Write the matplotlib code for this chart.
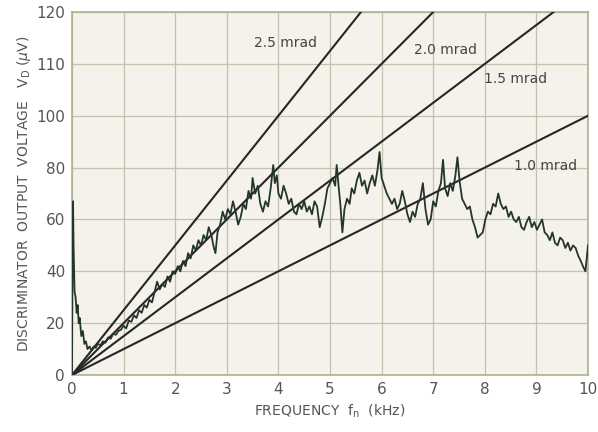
import matplotlib.pyplot as plt

# measured discriminator output (true scale 0-140, ticks every 20)
freq = [0.0, 0.01, 0.02, 0.03, 0.05, 0.07, 0.09, 0.11, 0.13, 0.15, 0.18, 0.21, 0.24, 0.27, 0.3,
        0.34, 0.38, 0.42, 0.46, 0.5, 0.55, 0.6, 0.65, 0.7, 0.75, 0.8, 0.85, 0.9, 0.95, 1.0,
        1.05, 1.1, 1.15, 1.2, 1.25, 1.3, 1.35, 1.4, 1.45, 1.5, 1.55, 1.6, 1.65, 1.7, 1.75,
        1.8, 1.85, 1.9, 1.95, 2.0, 2.05, 2.1, 2.15, 2.2, 2.25, 2.3, 2.35, 2.4, 2.45, 2.5,
        2.55, 2.6, 2.65, 2.7, 2.75, 2.78, 2.82, 2.87, 2.92, 2.97, 3.02, 3.07, 3.12, 3.17, 3.22,
        3.27, 3.32, 3.37, 3.42, 3.47, 3.5, 3.55, 3.6, 3.65, 3.7, 3.75, 3.8, 3.85, 3.9, 3.93,
        3.97, 4.0, 4.05, 4.1, 4.15, 4.2, 4.25, 4.3, 4.35, 4.4, 4.45, 4.5, 4.55, 4.6, 4.65,
        4.7, 4.75, 4.8, 4.85, 4.9, 4.95, 5.0, 5.05, 5.1, 5.13, 5.17, 5.2, 5.24, 5.28, 5.33,
        5.38, 5.42, 5.47, 5.52, 5.57, 5.62, 5.67, 5.72, 5.77, 5.82, 5.87, 5.92, 5.96, 6.0, 6.05,
        6.1, 6.15, 6.2, 6.25, 6.3, 6.35, 6.4, 6.45, 6.5, 6.55, 6.6, 6.65, 6.7, 6.75, 6.8,
        6.85, 6.9, 6.95, 7.0, 7.05, 7.1, 7.15, 7.19, 7.23, 7.28, 7.33, 7.38, 7.43, 7.47, 7.51,
        7.56, 7.61, 7.66, 7.71, 7.76, 7.81, 7.86, 7.91, 7.96, 8.01, 8.06, 8.11, 8.16, 8.21, 8.26,
        8.31, 8.36, 8.41, 8.46, 8.51, 8.56, 8.61, 8.66, 8.71, 8.76, 8.81, 8.86, 8.91, 8.96, 9.01,
        9.06, 9.11, 9.16, 9.21, 9.26, 9.31, 9.36, 9.41, 9.46, 9.51, 9.56, 9.61, 9.66, 9.71, 9.76,
        9.81, 9.86, 9.9, 9.95, 9.98, 10.0]
volt = [0, 45, 67, 50, 32, 30, 24, 27, 20, 22, 15, 17, 12, 13, 10,
        11, 9.5, 11, 10.5, 12, 11.5, 13, 12.5, 14.5, 14, 16, 15.5, 17, 17.5, 19,
        18, 21, 20.5, 23, 22, 25, 24, 27, 26, 29, 28, 32, 36, 33, 35,
        34, 38, 36, 40, 39, 42, 40, 44, 42, 47, 45, 50, 48, 52, 50,
        54, 52, 57, 54, 49, 47, 55, 58, 63, 60, 64, 62, 67, 63, 58,
        61, 66, 64, 71, 68, 76, 70, 73, 66, 63, 67, 65, 72, 81, 74,
        77, 70, 68, 73, 70, 66, 68, 63, 62, 66, 64, 67, 63, 65, 62,
        67, 65, 57, 61, 66, 72, 74, 76, 73, 81, 72, 66, 55, 64, 68,
        66, 72, 70, 75, 78, 73, 75, 70, 74, 77, 73, 79, 86, 76, 73,
        70, 68, 66, 68, 64, 66, 71, 67, 62, 59, 63, 61, 66, 68, 74,
        64, 58, 60, 67, 65, 71, 74, 83, 72, 69, 74, 71, 77, 84, 75,
        68, 66, 64, 65, 60, 57, 53, 54, 55, 60, 63, 62, 66, 65, 70,
        66, 64, 65, 61, 63, 60, 59, 61, 57, 56, 59, 61, 57, 59, 56,
        58, 60, 55, 54, 52, 55, 51, 50, 53, 52, 49, 51, 48, 50, 49,
        46, 44, 42, 40, 46, 50]

# reference lines (angle in mrad), labels and label spots
mrad = [2.5, 2.0, 1.5, 1.0]
line_labels = ["2.5 mrad", "2.0 mrad", "1.5 mrad", "1.0 mrad"]
label_f = [4.13, 7.23, 8.6, 9.17]
label_v = [128, 125.5, 114, 80.5]

y_ticks = [0, 20, 40, 60, 80, 100, 120, 140]
y_tick_labels = ["0", "20", "40", "60", "80", "100", "110", "120"]
x_ticks = list(range(0, 11))

txt = "#555555"
fig = plt.figure(figsize=(5.98, 4.32), dpi=100)
ax = fig.add_axes([0.1204, 0.1319, 0.8629, 0.8403])
ax.set_facecolor("#f4f2ea")

for m in mrad:
    f_end = min(10, 140 / (10 * m))
    ax.plot([0, f_end], [0, 10 * m * f_end], color="#262626", lw=1.5, zorder=3)

ax.plot(freq, volt, color="#24352c", lw=1.3, zorder=4)

for lab, fx, vy in zip(line_labels, label_f, label_v):
    ax.text(fx, vy, lab, ha="center", va="center", fontsize=10, color="#444444", zorder=5)

ax.set_xlim(0, 10)
ax.set_ylim(0, 140)
ax.set_xticks(x_ticks)
ax.set_yticks(y_ticks)
ax.set_yticklabels(y_tick_labels)
ax.tick_params(length=0, labelsize=11, labelcolor=txt, pad=5)
ax.grid(True, color="#c4c2ad", lw=0.9)
ax.set_axisbelow(True)
for s in ax.spines.values():
    s.set_color("#b0b08e")
    s.set_linewidth(1.2)

ax.set_xlabel(r"FREQUENCY  f$_\mathregular{n}$  (kHz)", fontsize=10, color=txt, labelpad=4)
ax.set_ylabel(r"DISCRIMINATOR  OUTPUT  VOLTAGE   V$_\mathregular{D}$ ($\mu$V)",
              fontsize=10, color=txt, labelpad=2)

plt.savefig("out.png", dpi=100)
